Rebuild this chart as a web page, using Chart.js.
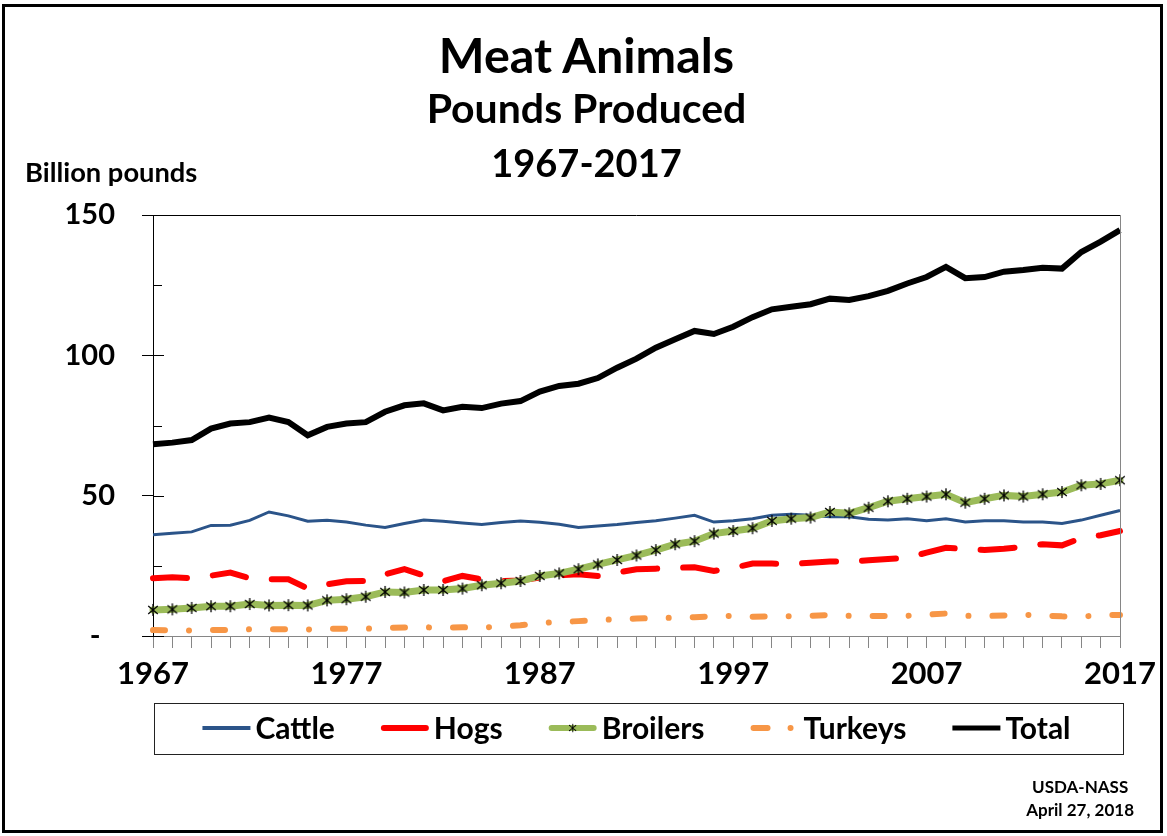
<!DOCTYPE html>
<html>
<head>
<meta charset="utf-8">
<title>Meat Animals - Pounds Produced</title>
<script src="https://cdn.jsdelivr.net/npm/chart.js@4.4.1/dist/chart.umd.min.js"></script>
<style>
  body { margin: 0; background: #fff; font-family: Lato, "Open Sans", sans-serif; font-weight: bold; }
  #wrap { position: relative; width: 1167px; height: 836px; overflow: hidden; }
  #frame { position: absolute; left: 2px; top: 4px; width: 1161px; height: 829px; border: 3px solid #000; box-sizing: border-box; }
  .t { position: absolute; left: 0; width: 1173px; text-align: center; color: #000; white-space: nowrap; }
  #t1 { top: 25px; font-size: 48.5px; line-height: 58px; }
  #t2 { top: 84px; font-size: 41px; line-height: 48px; }
  #t3 { top: 139px; font-size: 38px; line-height: 46px; }
  #unit { position: absolute; left: 25px; top: 157px; font-size: 27.3px; line-height: 30px; }
  #src { position: absolute; right: 33px; top: 775px; font-size: 17px; line-height: 23px; text-align: center; }
  canvas { position: absolute; left: 0; top: 0; }
</style>
</head>
<body>
<div id="wrap">
  <canvas id="grafico" width="1167" height="836"></canvas>
  <div id="frame"></div>
  <div class="t" id="t1">Meat Animals</div>
  <div class="t" id="t2">Pounds Produced</div>
  <div class="t" id="t3">1967-2017</div>
  <div id="unit">Billion pounds</div>
  <div id="src">USDA-NASS<br>April 27, 2018</div>
</div>
<script>
// anos 1967..2017
const anos = [
  1967, 1968, 1969, 1970, 1971, 1972, 1973, 1974, 1975, 1976, 1977, 1978, 1979,
  1980, 1981, 1982, 1983, 1984, 1985, 1986, 1987, 1988, 1989, 1990, 1991, 1992,
  1993, 1994, 1995, 1996, 1997, 1998, 1999, 2000, 2001, 2002, 2003, 2004, 2005,
  2006, 2007, 2008, 2009, 2010, 2011, 2012, 2013, 2014, 2015, 2016, 2017
]

// bilhoes de libras
const cattle = [
  36.1, 36.6, 37.1, 39.4, 39.5, 41.2, 44.2, 42.8, 40.9, 41.2, 40.6, 39.5, 38.7,
  40.1, 41.3, 40.9, 40.3, 39.7, 40.4, 41.0, 40.5, 39.8, 38.7, 39.2, 39.7, 40.4,
  41.1, 42.0, 43.0, 40.6, 41.1, 41.8, 43.0, 43.4, 43.0, 42.5, 42.5, 41.6, 41.3,
  41.8, 41.1, 41.8, 40.6, 41.1, 41.1, 40.6, 40.6, 40.1, 41.3, 43.0, 44.7
]
const hogs = [
  20.6, 20.9, 20.6, 21.5, 22.6, 20.6, 20.2, 20.2, 16.9, 18.4, 19.5, 19.6, 22.0,
  23.8, 21.6, 19.5, 21.4, 20.2, 19.6, 19.8, 20.8, 21.6, 22.0, 21.4, 22.6, 23.8,
  24.0, 24.3, 24.5, 23.2, 24.3, 25.8, 25.8, 25.7, 26.1, 26.5, 26.5, 27.0, 27.4,
  27.9, 29.7, 31.4, 31.1, 30.6, 31.1, 31.8, 32.7, 32.3, 34.9, 35.9, 37.4
]
const broilers = [
  9.3, 9.5, 10.0, 10.6, 10.6, 11.4, 10.9, 11.0, 10.9, 12.7, 13.1, 14.0, 15.7,
  15.5, 16.4, 16.4, 16.9, 18.1, 18.8, 19.6, 21.4, 22.3, 23.8, 25.5, 27.1, 28.7,
  30.6, 32.7, 33.8, 36.5, 37.4, 38.4, 41.0, 41.8, 42.2, 44.2, 43.7, 45.7, 48.0,
  48.9, 49.7, 50.5, 47.5, 48.9, 50.1, 49.7, 50.5, 51.3, 53.7, 54.2, 55.5
]
const turkeys = [
  2.1, 2.0, 2.0, 2.1, 2.2, 2.4, 2.4, 2.4, 2.3, 2.6, 2.6, 2.6, 2.9,
  3.0, 3.1, 3.0, 3.1, 3.0, 3.4, 3.8, 4.6, 5.0, 5.3, 5.7, 6.0, 6.2,
  6.4, 6.5, 6.7, 7.0, 7.2, 6.9, 7.0, 7.0, 7.2, 7.5, 7.2, 7.1, 7.1,
  7.2, 7.6, 8.0, 7.2, 7.1, 7.3, 7.6, 7.3, 7.0, 6.9, 7.4, 7.5
]
const total = [
  68.3, 68.9, 69.8, 73.9, 75.7, 76.2, 77.8, 76.2, 71.5, 74.5, 75.7, 76.2, 79.9,
  82.2, 82.9, 80.4, 81.7, 81.2, 82.8, 83.7, 87.1, 89.1, 89.9, 91.9, 95.6, 98.8,
  102.7, 105.7, 108.7, 107.6, 110.2, 113.6, 116.4, 117.3, 118.2, 120.2, 119.7, 121.1, 123.0,
  125.6, 127.9, 131.5, 127.5, 127.9, 129.8, 130.4, 131.2, 130.9, 136.8, 140.5, 144.6
]

// eixo y
const ticksY = [0, 50, 100, 150]

const grafico = document.querySelector("#grafico")

Chart.defaults.font.family = "Lato"
Chart.defaults.font.weight = "bold"
Chart.defaults.color = "#000"

//marcador asterisco dos broilers
const asterisco = function (tam) {
    const c = document.createElement('canvas')
    c.width = tam
    c.height = tam
    const g = c.getContext('2d')
    const m = tam / 2
    const r = tam / 2 - 1
    g.strokeStyle = '#000'
    g.lineWidth = 1.3
    g.beginPath()
    g.moveTo(m, m - r); g.lineTo(m, m + r)
    g.moveTo(m - r * 0.8, m - r * 0.65); g.lineTo(m + r * 0.8, m + r * 0.65)
    g.moveTo(m - r * 0.8, m + r * 0.65); g.lineTo(m + r * 0.8, m - r * 0.65)
    g.stroke()
    return c
}
const estrela = asterisco(14)

// amostra de linha da legenda
const amostra = function (ctx, ds, x, y, w) {
    ctx.save()
    ctx.strokeStyle = ds.borderColor
    ctx.lineWidth = ds.legendWidth || ds.borderWidth
    ctx.lineCap = ds.borderCapStyle || 'butt'
    const cap = ctx.lineCap === 'round' ? ctx.lineWidth / 2 : 0
    ctx.beginPath()
    if (ds.label === 'Turkeys') {
        ctx.moveTo(x + cap, y); ctx.lineTo(x + 20 - cap, y)
        ctx.moveTo(x + 40, y); ctx.lineTo(x + 40.01, y)
    } else {
        ctx.moveTo(x + cap, y); ctx.lineTo(x + w - cap, y)
    }
    ctx.stroke()
    if (ds.pointStyle instanceof HTMLCanvasElement) {
        ctx.drawImage(ds.pointStyle, x + w / 2 - 5, y - 5, 10, 10)
    }
    ctx.restore()
}

// tracinhos internos do eixo y, moldura da area e legenda com caixa
const molduras = {
    id: 'molduras',
    afterDraw(chart) {
        const { ctx, chartArea: a, scales: { y } } = chart
        ctx.save()
        ctx.lineWidth = 1
        ctx.strokeStyle = '#000'
        for (let v = 0; v <= 150; v += 25) {
            const py = Math.round(y.getPixelForValue(v)) + 0.5
            const len = v % 50 === 0 ? 11 : 9
            ctx.beginPath()
            ctx.moveTo(a.left, py)
            ctx.lineTo(a.left + len, py)
            ctx.stroke()
        }
        const top = Math.round(a.top) + 0.5
        ctx.beginPath()
        ctx.moveTo(a.left, top)
        ctx.lineTo(a.right, top)
        ctx.stroke()

        ctx.strokeStyle = '#868686'
        ctx.beginPath()
        ctx.moveTo(Math.round(a.right) + 0.5, a.top)
        ctx.lineTo(Math.round(a.right) + 0.5, a.bottom)
        ctx.stroke()

        // legenda
        const caixaTopo = Math.round(a.bottom) + 67
        const caixaEsq = Math.round(a.left) + 1
        const caixaDir = Math.round(a.right) + 3
        ctx.strokeStyle = '#222'
        ctx.strokeRect(caixaEsq + 0.5, caixaTopo + 0.5, caixaDir - caixaEsq, 51)

        ctx.font = 'bold 30px Lato'
        ctx.textBaseline = 'middle'
        ctx.fillStyle = '#000'
        const linha = 48, folga = 5, espaco = 46
        const itens = chart.data.datasets.map(ds => ({ ds, w: linha + folga + ctx.measureText(ds.label).width }))
        const largura = itens.reduce((s, it) => s + it.w, 0) + espaco * (itens.length - 1)
        let x = (caixaEsq + caixaDir) / 2 - largura / 2 - 2
        const yl = caixaTopo + 25
        itens.forEach(it => {
            amostra(ctx, it.ds, x, yl, linha)
            ctx.fillText(it.ds.label, x + linha + folga, yl + 1)
            x += it.w + espaco
        })
        ctx.restore()
    }
}

new Chart(grafico, {
    type: 'line',
    data: {
        labels: anos,
        datasets: [{
            label: 'Cattle',
            data: cattle,
            borderColor: '#2b5489',
            borderWidth: 3,
            legendWidth: 4,
            order: 5
        }, {
            label: 'Hogs',
            data: hogs,
            borderColor: '#ff0000',
            borderWidth: 6,
            borderDash: [34, 26],
            borderCapStyle: 'round',
            order: 4
        }, {
            label: 'Broilers',
            data: broilers,
            borderColor: '#9bbb59',
            borderWidth: 7,
            borderCapStyle: 'round',
            legendWidth: 6,
            pointStyle: estrela,
            pointRadius: 7,
            order: 3
        }, {
            label: 'Turkeys',
            data: turkeys,
            borderColor: '#f79646',
            borderWidth: 6,
            borderDash: [12, 24, 0.01, 24],
            borderCapStyle: 'round',
            order: 2
        }, {
            label: 'Total',
            data: total,
            borderColor: '#000',
            borderWidth: 6,
            legendWidth: 5,
            order: 1
        }]
    },
    options: {
        responsive: false,
        animation: false,
        tension: 0,
        elements: { point: { radius: 0, hoverRadius: 0 } },
        layout: { padding: { left: 20, right: 47, top: 215, bottom: 144 } },
        scales: {
            x: {
                grid: { drawOnChartArea: false, color: '#868686', tickLength: 12 },
                border: { color: '#868686' },
                ticks: {
                    autoSkip: false,
                    maxRotation: 0,
                    padding: 7,
                    font: { size: 31, weight: 'bold' },
                    callback: (v, i) => i % 10 === 0 ? anos[i] : ''
                },
                afterFit(scale) { scale.height = 56 }
            },
            y: {
                min: 0,
                max: 150,
                afterBuildTicks(scale) { scale.ticks = ticksY.map(v => ({ value: v })) },
                grid: { drawOnChartArea: false, color: '#000', tickLength: 11 },
                border: { color: '#000' },
                ticks: {
                    padding: 27,
                    font: { size: 29, weight: 'bold' },
                    callback: v => v === 0 ? '-\u2002' : v
                },
                afterFit(scale) { scale.width = 133 }
            }
        },
        plugins: {
            tooltip: { enabled: false },
            legend: { display: false }
        }
    },
    plugins: [molduras]
})
</script>
</body>
</html>
